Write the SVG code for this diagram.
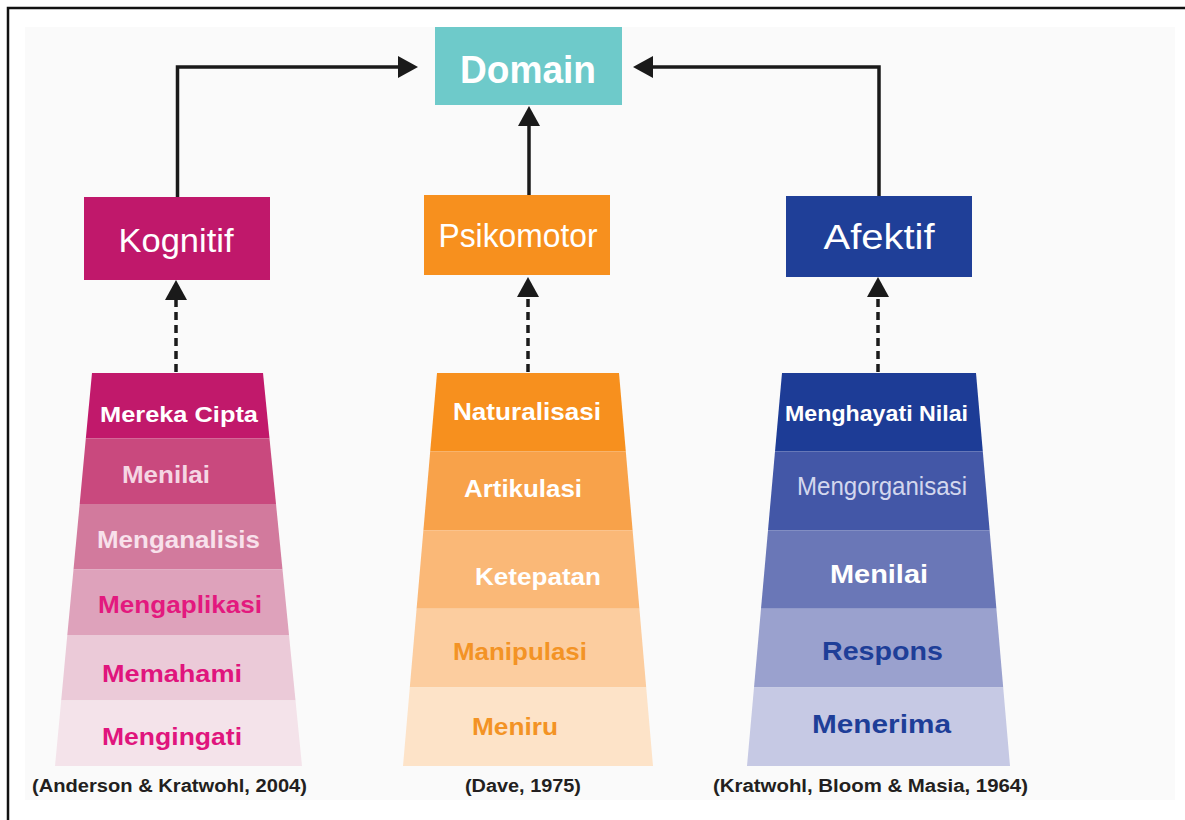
<svg xmlns="http://www.w3.org/2000/svg" width="1185" height="820" viewBox="0 0 1185 820">
<defs>
<marker id="ah" markerUnits="userSpaceOnUse" viewBox="0 0 20 22" refX="0" refY="11" markerWidth="20" markerHeight="22" orient="auto">
<path d="M0,0 L20,11 L0,22 Z" fill="#1a1a1a"/>
</marker>
<style>
.lbl{font-family:"Liberation Sans",Arial,Helvetica,sans-serif;font-weight:bold;}
.hdr{font-family:"Liberation Sans",Arial,Helvetica,sans-serif;fill:#ffffff;text-anchor:middle;}
.cap{font-family:"Liberation Sans",Arial,Helvetica,sans-serif;font-weight:bold;font-size:18px;fill:#231f20;}
.solid{fill:none;stroke:#1a1a1a;stroke-width:3.5;}
.dash{fill:none;stroke:#1a1a1a;stroke-width:3.5;stroke-dasharray:8 5;}
</style>
</defs>
<rect x="0" y="0" width="1185" height="820" fill="#ffffff"/>
<rect x="25" y="27" width="1150" height="773" fill="#fafafa"/>
<path d="M8,820 V8 H1185" fill="none" stroke="#111" stroke-width="2.5"/>

<g id="connectors">
<path class="solid" d="M177.5,197 V67 H398" marker-end="url(#ah)"/>
<path class="solid" d="M879,196 V67 H653" marker-end="url(#ah)"/>
<path class="solid" d="M529,195 V126" marker-end="url(#ah)"/>
<path class="dash" d="M176,372 V300" marker-end="url(#ah)"/>
<path class="dash" d="M528,372 V297" marker-end="url(#ah)"/>
<path class="dash" d="M878,372 V297" marker-end="url(#ah)"/>
</g>

<g id="domain">
<rect x="435" y="27" width="187" height="78" fill="#6ecaca"/>
<text class="hdr" x="528" y="83" font-size="39" font-weight="bold" textLength="136" lengthAdjust="spacingAndGlyphs">Domain</text>
</g>
<g id="kognitif">
<rect x="84" y="197" width="186" height="83" fill="#c0186b"/>
<text class="hdr" x="176" y="252" font-size="34" textLength="115" lengthAdjust="spacingAndGlyphs">Kognitif</text>
</g>
<g id="psikomotor">
<rect x="424" y="195" width="186" height="80" fill="#f7901e"/>
<text class="hdr" x="518" y="247" font-size="33" textLength="159" lengthAdjust="spacingAndGlyphs">Psikomotor</text>
</g>
<g id="afektif">
<rect x="786" y="196" width="186" height="81" fill="#1f3f98"/>
<text class="hdr" x="879" y="249" font-size="35" textLength="111" lengthAdjust="spacingAndGlyphs">Afektif</text>
</g>

<g id="kognitif-levels">
<polygon points="92,373 263,373 269.5,438.5 85.8,438.5" fill="#c1196b"/>
<polygon points="85.8,438.5 269.5,438.5 276,504 79.7,504" fill="#c9497e"/>
<polygon points="79.7,504 276,504 282.5,569.5 73.5,569.5" fill="#d27a9d"/>
<polygon points="73.5,569.5 282.5,569.5 289,635 67.3,635" fill="#dea2bb"/>
<polygon points="67.3,635 289,635 295.5,700.5 61.2,700.5" fill="#ebcad8"/>
<polygon points="61.2,700.5 295.5,700.5 302,766 55,766" fill="#f4e3ea"/>
<text class="lbl" x="100" y="422" font-size="22" fill="#ffffff" textLength="158" lengthAdjust="spacingAndGlyphs">Mereka Cipta</text>
<text class="lbl" x="122" y="483" font-size="24" fill="#f5d6e3" textLength="88" lengthAdjust="spacingAndGlyphs">Menilai</text>
<text class="lbl" x="97" y="548" font-size="24" fill="#f8e1eb" textLength="163" lengthAdjust="spacingAndGlyphs">Menganalisis</text>
<text class="lbl" x="98" y="613" font-size="24" fill="#e3197e" textLength="164" lengthAdjust="spacingAndGlyphs">Mengaplikasi</text>
<text class="lbl" x="102" y="682" font-size="24" fill="#e0157d" textLength="140" lengthAdjust="spacingAndGlyphs">Memahami</text>
<text class="lbl" x="102" y="745" font-size="24" fill="#e0157d" textLength="140" lengthAdjust="spacingAndGlyphs">Mengingati</text>
<text class="cap" x="32" y="792" textLength="275" lengthAdjust="spacingAndGlyphs">(Anderson &amp; Kratwohl, 2004)</text>
</g>

<g id="psikomotor-levels">
<polygon points="437,373 619,373 625.8,451.6 430.2,451.6" fill="#f7901e"/>
<polygon points="430.2,451.6 625.8,451.6 632.6,530.2 423.4,530.2" fill="#f8a24a"/>
<polygon points="423.4,530.2 632.6,530.2 639.4,608.8 416.6,608.8" fill="#fab877"/>
<polygon points="416.6,608.8 639.4,608.8 646.2,687.4 409.8,687.4" fill="#fccd9f"/>
<polygon points="409.8,687.4 646.2,687.4 653,766 403,766" fill="#fde3c8"/>
<text class="lbl" x="453" y="420" font-size="24" fill="#ffffff" textLength="148" lengthAdjust="spacingAndGlyphs">Naturalisasi</text>
<text class="lbl" x="464" y="497" font-size="24" fill="#ffffff" textLength="118" lengthAdjust="spacingAndGlyphs">Artikulasi</text>
<text class="lbl" x="475" y="585" font-size="24" fill="#ffffff" textLength="126" lengthAdjust="spacingAndGlyphs">Ketepatan</text>
<text class="lbl" x="453" y="660" font-size="24" fill="#f39325" textLength="134" lengthAdjust="spacingAndGlyphs">Manipulasi</text>
<text class="lbl" x="472" y="735" font-size="24" fill="#f39325" textLength="86" lengthAdjust="spacingAndGlyphs">Meniru</text>
<text class="cap" x="465" y="792" textLength="116" lengthAdjust="spacingAndGlyphs">(Dave, 1975)</text>
</g>

<g id="afektif-levels">
<polygon points="782,373 976,373 982.8,451.6 775,451.6" fill="#1d3c96"/>
<polygon points="775,451.6 982.8,451.6 989.6,530.2 768,530.2" fill="#4357a7"/>
<polygon points="768,530.2 989.6,530.2 996.4,608.8 761,608.8" fill="#6a77b7"/>
<polygon points="761,608.8 996.4,608.8 1003.2,687.4 754,687.4" fill="#9aa1ce"/>
<polygon points="754,687.4 1003.2,687.4 1010,766 747,766" fill="#c6c9e4"/>
<text class="lbl" x="785" y="421" font-size="22" fill="#ffffff" textLength="183" lengthAdjust="spacingAndGlyphs">Menghayati Nilai</text>
<text x="797" y="495" font-family="Liberation Sans, Arial, sans-serif" font-size="25" fill="#d3d7ee" textLength="170" lengthAdjust="spacingAndGlyphs">Mengorganisasi</text>
<text class="lbl" x="830" y="583" font-size="26" fill="#ffffff" textLength="98" lengthAdjust="spacingAndGlyphs">Menilai</text>
<text class="lbl" x="822" y="660" font-size="25" fill="#1e3e98" textLength="121" lengthAdjust="spacingAndGlyphs">Respons</text>
<text class="lbl" x="812" y="733" font-size="25" fill="#1e3e98" textLength="139" lengthAdjust="spacingAndGlyphs">Menerima</text>
<text class="cap" x="713" y="792" textLength="315" lengthAdjust="spacingAndGlyphs">(Kratwohl, Bloom &amp; Masia, 1964)</text>
</g>
</svg>
